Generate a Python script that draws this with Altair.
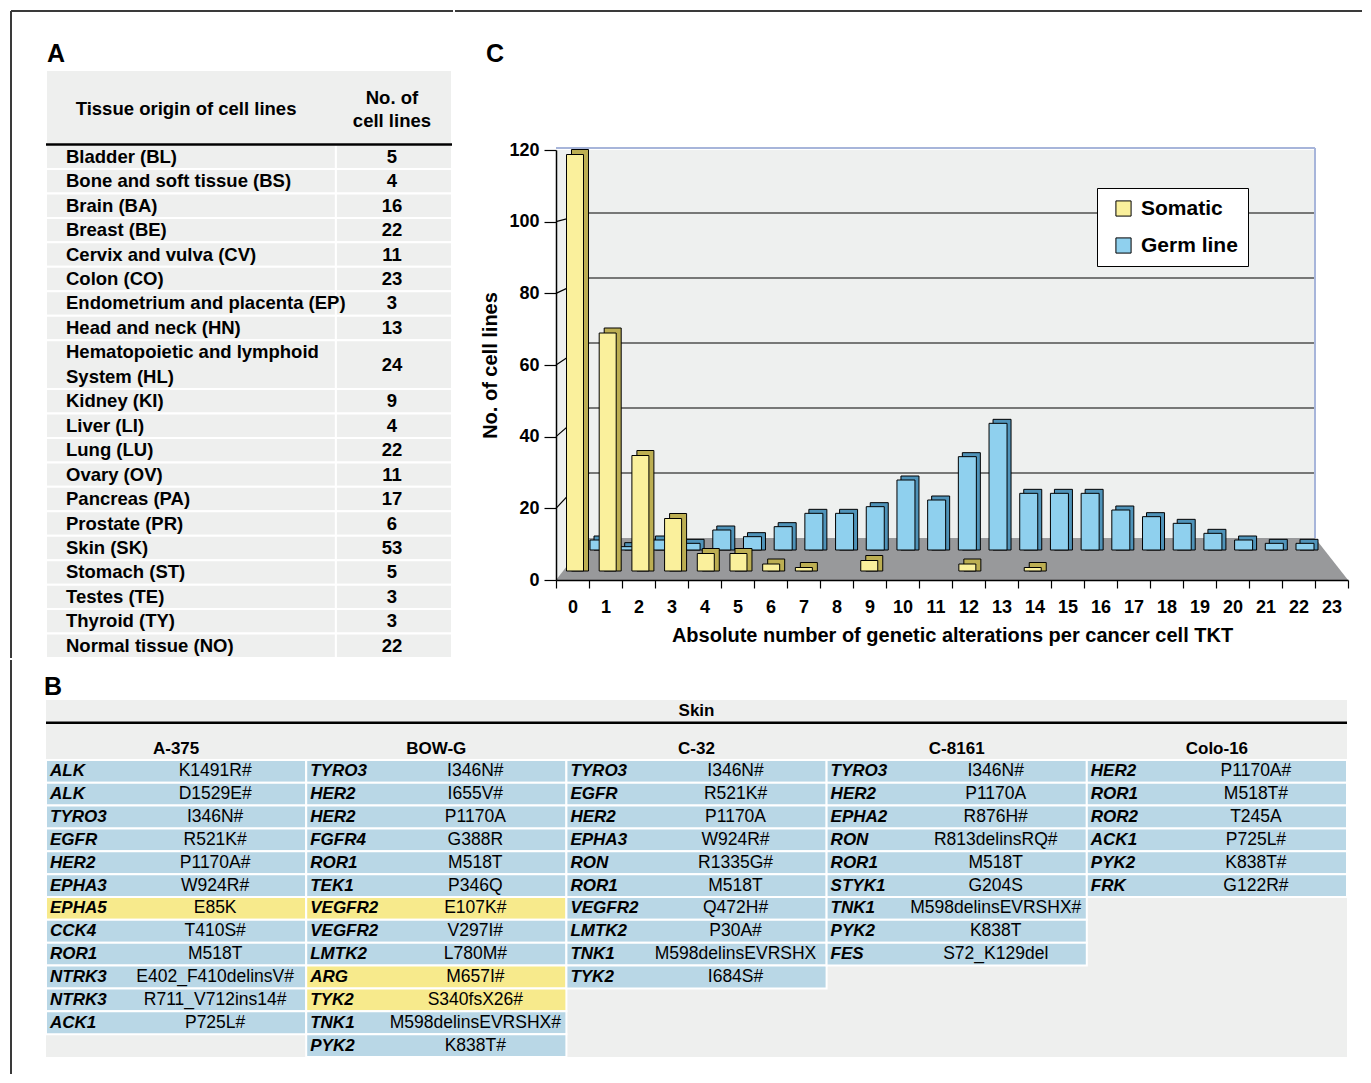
import altair as alt
import pandas as pd

FONT = "Liberation Sans"
PANEL_GRAY = "#eeefee"
CELL_BLUE = "#b9d7e6"
CELL_YELLOW = "#f7ea8c"
SOMA_FACE = "#faf09c"
SOMA_SIDE = "#bcae52"
GERM_FACE = "#8fd0ee"
GERM_SIDE = "#4f93b9"
FLOOR_GRAY = "#98999b"
WALL_GRAY = "#eef0ef"
WALL_EDGE = "#a7b5da"
FRAME_COLOR = "#3a3a3a"

# ------------------------------------------------------------------ data
tissues = [
    "Bladder (BL)", "Bone and soft tissue (BS)", "Brain (BA)", "Breast (BE)",
    "Cervix and vulva (CV)", "Colon (CO)", "Endometrium and placenta (EP)",
    "Head and neck (HN)", "Hematopoietic and lymphoid\nSystem (HL)", "Kidney (KI)",
    "Liver (LI)", "Lung (LU)", "Ovary (OV)", "Pancreas (PA)", "Prostate (PR)",
    "Skin (SK)", "Stomach (ST)", "Testes (TE)", "Thyroid (TY)", "Normal tissue (NO)",
]
tissue_counts = [5, 4, 16, 22, 11, 23, 3, 13, 24, 9, 4, 22, 11, 17, 6, 53, 5, 3, 3, 22]

alterations = list(range(24))
somatic_counts = [119, 68, 33, 15, 5, 5, 2, 1, 0, 3, 0, 0, 2, 0, 1, 0, 0, 0, 0, 0, 0, 0, 0, 0]
germline_counts = [3, 1, 3, 2, 6, 4, 7, 11, 11, 13, 21, 15, 28, 38, 17, 17, 17, 12, 10, 8, 5, 3, 2, 2]
y_ticks = [0, 20, 40, 60, 80, 100, 120]
series_names = ["Somatic", "Germ line"]
panel_labels = ["A", "B", "C"]

cell_lines = ["A-375", "BOW-G", "C-32", "C-8161", "Colo-16"]
a375_genes = ["ALK", "ALK", "TYRO3", "EGFR", "HER2", "EPHA3", "EPHA5", "CCK4", "ROR1", "NTRK3", "NTRK3", "ACK1"]
a375_muts = ["K1491R#", "D1529E#", "I346N#", "R521K#", "P1170A#", "W924R#", "E85K", "T410S#", "M518T",
             "E402_F410delinsV#", "R711_V712ins14#", "P725L#"]
a375_somatic = [0, 0, 0, 0, 0, 0, 1, 0, 0, 0, 0, 0]
bowg_genes = ["TYRO3", "HER2", "HER2", "FGFR4", "ROR1", "TEK1", "VEGFR2", "VEGFR2", "LMTK2", "ARG", "TYK2", "TNK1", "PYK2"]
bowg_muts = ["I346N#", "I655V#", "P1170A", "G388R", "M518T", "P346Q", "E107K#", "V297I#", "L780M#", "M657I#",
             "S340fsX26#", "M598delinsEVRSHX#", "K838T#"]
bowg_somatic = [0, 0, 0, 0, 0, 0, 1, 0, 0, 1, 1, 0, 0]
c32_genes = ["TYRO3", "EGFR", "HER2", "EPHA3", "RON", "ROR1", "VEGFR2", "LMTK2", "TNK1", "TYK2"]
c32_muts = ["I346N#", "R521K#", "P1170A", "W924R#", "R1335G#", "M518T", "Q472H#", "P30A#", "M598delinsEVRSHX", "I684S#"]
c32_somatic = [0, 0, 0, 0, 0, 0, 0, 0, 0, 0]
c8161_genes = ["TYRO3", "HER2", "EPHA2", "RON", "ROR1", "STYK1", "TNK1", "PYK2", "FES"]
c8161_muts = ["I346N#", "P1170A", "R876H#", "R813delinsRQ#", "M518T", "G204S", "M598delinsEVRSHX#", "K838T", "S72_K129del"]
c8161_somatic = [0, 0, 0, 0, 0, 0, 0, 0, 0]
colo16_genes = ["HER2", "ROR1", "ROR2", "ACK1", "PYK2", "FRK"]
colo16_muts = ["P1170A#", "M518T#", "T245A", "P725L#", "K838T#", "G122R#"]
colo16_somatic = [0, 0, 0, 0, 0, 0]

LABEL_STYLE = dict(align="left", baseline="middle", fontSize=25, fontWeight="bold", color="black")

# figure frame (left + top border), in pixels relative to each panel's plot corner
FRAME_LEFT = -35        # left border, relative to panels A / B
FRAME_TOP = -59         # top border, relative to panels A / C
C_GAP = 101             # gap from panel A's right edge to panel C's y axis
FRAME_RIGHT_C = 806     # end of top border, relative to panel C
FRAME_BOTTOM_B = 374    # end of left border, relative to panel B
B_GAP = 40              # gap from panel A's bottom to panel B's table
LABEL_A = (1, -16)      # panel-letter positions (px) relative to each panel's corner
LABEL_B = (-2, -13)
LABEL_C = (-70, -16)

# ------------------------------------------------------------------ panel A
A_W = 406
A_ROW = 24.45
A_HEAD = 3.05
A_SPLIT = 0.714

rowsA = []
pos = A_HEAD
for name, n in zip(tissues, tissue_counts):
    h = name.count("\n") + 1
    rowsA.append({"name": name, "n": str(n), "y0": pos, "y1": pos + h, "ym": pos + h / 2,
                  "yt": pos + 0.5, "xl": 0.0, "xr": (A_SPLIT + 1) / 2})
    pos += h
A_TOTAL = pos
A_H = round(A_TOTAL * A_ROW)
A_PX = A_H / A_TOTAL
dfA = pd.DataFrame(rowsA)

cellsA = [{"x0": 0, "x1": 1, "y0": 0, "y1": A_HEAD}]
for r in rowsA:
    cellsA.append({"x0": 0, "x1": A_SPLIT, "y0": r["y0"], "y1": r["y1"]})
    cellsA.append({"x0": A_SPLIT, "x1": 1, "y0": r["y0"], "y1": r["y1"]})

xA = alt.Scale(domain=[0, 1])
yA = alt.Scale(domain=[0, A_TOTAL], reverse=True)

a_frame = alt.Chart(pd.DataFrame({
    "x0": [FRAME_LEFT / A_W, FRAME_LEFT / A_W], "x1": [FRAME_LEFT / A_W, (A_W + 1) / A_W],
    "y0": [FRAME_TOP / A_PX, FRAME_TOP / A_PX], "y1": [A_TOTAL, FRAME_TOP / A_PX],
})).mark_rule(color=FRAME_COLOR, strokeWidth=2).encode(
    x=alt.X("x0:Q", scale=xA, axis=None), x2="x1:Q",
    y=alt.Y("y0:Q", scale=yA, axis=None), y2="y1:Q")
a_label = alt.Chart(pd.DataFrame({"t": [panel_labels[0]], "x": [LABEL_A[0] / A_W],
                                  "y": [LABEL_A[1] / A_PX]})).mark_text(**LABEL_STYLE).encode(
    x=alt.X("x:Q", scale=xA, axis=None), y=alt.Y("y:Q", scale=yA, axis=None), text="t:N")
a_cells = alt.Chart(pd.DataFrame(cellsA)).mark_rect(fill=PANEL_GRAY, stroke="white", strokeWidth=2).encode(
    x=alt.X("x0:Q", scale=xA, axis=None), x2="x1:Q",
    y=alt.Y("y0:Q", scale=yA, axis=None), y2="y1:Q")
a_rule = alt.Chart(pd.DataFrame({"x0": [0], "x1": [1], "y": [A_HEAD]})).mark_rule(
    color="black", strokeWidth=2.5).encode(
    x=alt.X("x0:Q", scale=xA, axis=None), x2="x1:Q", y=alt.Y("y:Q", scale=yA, axis=None))
a_names = alt.Chart(dfA).mark_text(align="left", baseline="middle", dx=20, fontSize=18.5, fontWeight="bold",
                                   lineBreak="\n", lineHeight=A_ROW, color="black").encode(
    x=alt.X("xl:Q", scale=xA, axis=None), y=alt.Y("yt:Q", scale=yA, axis=None), text="name:N")
a_counts = alt.Chart(dfA).mark_text(align="center", baseline="middle", dx=-2, fontSize=18.5, fontWeight="bold",
                                    color="black").encode(
    x=alt.X("xr:Q", scale=xA, axis=None), y=alt.Y("ym:Q", scale=yA, axis=None), text="n:N")
a_head1 = alt.Chart(pd.DataFrame({"label": ["Tissue origin of cell lines"], "x": [A_SPLIT / 2 - 0.012],
                                  "y": [A_HEAD / 2 + 0.05]})).mark_text(
    align="center", baseline="middle", fontSize=18.5, fontWeight="bold", color="black").encode(
    x=alt.X("x:Q", scale=xA, axis=None), y=alt.Y("y:Q", scale=yA, axis=None), text="label:N")
a_head2 = alt.Chart(pd.DataFrame({"label": ["No. of\ncell lines"], "x": [(A_SPLIT + 1) / 2],
                                  "y": [A_HEAD / 2 - 0.38]})).mark_text(
    align="center", baseline="middle", dx=-2, fontSize=18.5, fontWeight="bold", lineBreak="\n", lineHeight=23,
    color="black").encode(
    x=alt.X("x:Q", scale=xA, axis=None), y=alt.Y("y:Q", scale=yA, axis=None), text="label:N")

panelA = alt.layer(a_frame, a_label, a_cells, a_rule, a_names, a_counts, a_head1, a_head2).properties(
    width=A_W, height=A_H)

# ------------------------------------------------------------------ panel C
C_W, C_H = 792, 510
FRONT = [510, 80]      # pixel rows of 0 and 120 on the front edge (axis)
BACK = [468, 78]       # pixel rows of 0 and 120 on the back wall
GERM_Y = [480, 80]     # germ-line row (behind)
SOMA_Y = [501, 81]     # somatic row (front)
SOMA_X = [19, 771]     # pixel centres of bars 0 and 23, somatic row
GERM_X = [43, 749]     # pixel centres of bars 0 and 23, germ-line row
FLOOR_DEPTH = (FRONT[0] - BACK[0]) / (FRONT[0] - FRONT[1]) * 120
LEGEND_X, LEGEND_Y = 1051, 118   # legend box corner, relative to the top row's origin
X_PX = C_W / 24


def front_units(px):
    return (FRONT[0] - px) * 120 / (FRONT[0] - FRONT[1])


axis_common = dict(labelFont=FONT, labelFontWeight="bold", labelColor="black", labelFontSize=18,
                   titleFont=FONT, titleFontWeight="bold", titleColor="black", titleFontSize=20,
                   domainColor="black", domainWidth=1.5, tickColor="black", tickWidth=1.2, grid=False,
                   zindex=1)


def lin_x():
    return alt.Scale(domain=[0, 24], range=[0, C_W], padding=0)


def front_y():
    return alt.Scale(domain=[0, 120], range=FRONT, padding=0)


def back_y():
    return alt.Scale(domain=[0, 120], range=BACK, padding=0)


wall = alt.Chart(pd.DataFrame({"k": alterations[:-1], "lo": 0, "hi": 120})).mark_rect(fill=WALL_GRAY).encode(
    x=alt.X("k:O", scale=alt.Scale(domain=alterations, paddingInner=0, paddingOuter=0),
            axis=alt.Axis(title="Absolute number of genetic alterations per cancer cell TKT",
                          tickBand="extent", labelAngle=0, tickSize=8, labelPadding=10, titlePadding=9,
                          **axis_common)),
    y=alt.Y("lo:Q", scale=front_y(),
            axis=alt.Axis(values=y_ticks, title="No. of cell lines", tickSize=12, labelPadding=5,
                          titlePadding=8, **axis_common)),
    y2="hi:Q")

# top border continued across panel C
c_frame = alt.Chart(pd.DataFrame({"x0": [-C_GAP / X_PX], "x1": [FRAME_RIGHT_C / X_PX],
                                  "y": [front_units(FRAME_TOP)]})).mark_rule(
    color=FRAME_COLOR, strokeWidth=2).encode(
    x=alt.X("x0:Q", scale=lin_x(), axis=None), x2="x1:Q",
    y=alt.Y("y:Q", scale=front_y(), axis=None))
c_label = alt.Chart(pd.DataFrame({"t": [panel_labels[2]], "x": [LABEL_C[0] / X_PX],
                                  "y": [front_units(LABEL_C[1])]})).mark_text(**LABEL_STYLE).encode(
    x=alt.X("x:Q", scale=lin_x(), axis=None), y=alt.Y("y:Q", scale=front_y(), axis=None), text="t:N")

floor = alt.Chart(pd.DataFrame({"fx": [0, 1, 23, 24], "fy": [0, FLOOR_DEPTH, FLOOR_DEPTH, 0],
                                "base": [0, 0, 0, 0]})).mark_area(color=FLOOR_GRAY).encode(
    x=alt.X("fx:Q", scale=lin_x(), axis=None),
    y=alt.Y("fy:Q", scale=front_y(), axis=None), y2="base:Q")

grid_df = pd.DataFrame({"v": y_ticks[1:-1], "x0": 1, "x1": 23, "s0": 0, "s1": 1})
back_grid = alt.Chart(grid_df).mark_rule(color="black", strokeWidth=1.2).encode(
    x=alt.X("x0:Q", scale=lin_x(), axis=None), x2="x1:Q",
    y=alt.Y("v:Q", scale=back_y(), axis=None))

# side-wall diagonals: from the front tick to the back-wall gridline (back value expressed in front units)
k_slope = (BACK[1] - BACK[0]) / (FRONT[1] - FRONT[0])
k_off = (BACK[0] - FRONT[0]) / (FRONT[1] - FRONT[0]) * 120
side_grid = alt.Chart(grid_df).transform_calculate(
    vb=f"{k_off} + {k_slope} * datum.v").mark_rule(color="black", strokeWidth=1.2).encode(
    x=alt.X("s0:Q", scale=lin_x(), axis=None), x2="s1:Q",
    y=alt.Y("v:Q", scale=front_y(), axis=None), y2="vb:Q")

edge_df = pd.DataFrame({"x0": [0, 23], "x1": [23, 23], "y0": [120, 0], "y1": [120, 120]})
edges = alt.Chart(edge_df).mark_rule(color=WALL_EDGE, strokeWidth=2).encode(
    x=alt.X("x0:Q", scale=lin_x(), axis=None), x2="x1:Q",
    y=alt.Y("y0:Q", scale=back_y(), axis=None), y2="y1:Q")

color_scale = alt.Scale(domain=series_names, range=[SOMA_FACE, GERM_FACE])
legend = alt.Legend(orient="none", legendX=LEGEND_X, legendY=LEGEND_Y, title=None, fillColor="white",
                    strokeColor="black", padding=10, symbolType="square", symbolSize=230, symbolOffset=6,
                    symbolStrokeColor="black", symbolStrokeWidth=1, labelFont=FONT, labelFontSize=21,
                    labelFontWeight="bold", labelColor="black", rowPadding=15, labelOffset=7, labelLimit=0)

germ_df = pd.DataFrame({"k": alterations, "value": germline_counts, "series": series_names[1], "zero": 0})
soma_df = pd.DataFrame({"k": alterations, "value": somatic_counts, "series": series_names[0], "zero": 0})


def bars(df, xr, yr, size, depth, side_color):
    base = alt.Chart(df).transform_filter("datum.value > 0")

    def enc():
        return dict(x=alt.X("k:Q", scale=alt.Scale(domain=[0, 23], range=xr, padding=0), axis=None),
                    y=alt.Y("value:Q", scale=alt.Scale(domain=[0, 120], range=yr, padding=0), axis=None),
                    y2="zero:Q")
    side = base.mark_bar(orient="vertical", size=size, xOffset=depth, yOffset=-depth, fill=side_color,
                         stroke="black", strokeWidth=1).encode(**enc())
    face = base.mark_bar(orient="vertical", size=size, stroke="black", strokeWidth=1, opacity=1).encode(
        color=alt.Color("series:N", scale=color_scale, legend=legend), **enc())
    return side, face


g_side, g_face = bars(germ_df, GERM_X, GERM_Y, 18, 4, GERM_SIDE)
s_side, s_face = bars(soma_df, SOMA_X, SOMA_Y, 17, 5, SOMA_SIDE)

panelC = alt.layer(wall, c_frame, c_label, floor, back_grid, side_grid, edges,
                   g_side, g_face, s_side, s_face).resolve_scale(
    x="independent", y="independent", color="shared").properties(width=C_W, height=C_H)

# ------------------------------------------------------------------ panel B
B_W = 1301
B_ROW = 22.85
B_SKIN = 1.0
B_HEAD_Y = 2.14
B_DATA_TOP = 2.62
B_TOTAL = B_DATA_TOP + max(len(a375_genes), len(bowg_genes), len(c32_genes), len(c8161_genes), len(colo16_genes))
B_H = round(B_TOTAL * B_ROW)
B_PX = B_H / B_TOTAL
B_MUT_POS = 0.65

columnsB = [
    (a375_genes, a375_muts, a375_somatic),
    (bowg_genes, bowg_muts, bowg_somatic),
    (c32_genes, c32_muts, c32_somatic),
    (c8161_genes, c8161_muts, c8161_somatic),
    (colo16_genes, colo16_muts, colo16_somatic),
]
recB = []
for c, (genes, muts, som) in enumerate(columnsB):
    for i, (g, m, s) in enumerate(zip(genes, muts, som)):
        recB.append({"c0": c, "c1": c + 1, "cm": c + B_MUT_POS, "y0": B_DATA_TOP + i, "y1": B_DATA_TOP + i + 1,
                     "ym": B_DATA_TOP + i + 0.5, "gene": g, "mut": m, "kind": "somatic" if s else "germ"})
dfB = pd.DataFrame(recB)
n_cols = len(cell_lines)
xB = alt.Scale(domain=[0, n_cols])
yB = alt.Scale(domain=[0, B_TOTAL], reverse=True)
B_XPX = B_W / n_cols

b_frame = alt.Chart(pd.DataFrame({
    "x": [FRAME_LEFT / B_XPX], "y0": [-B_GAP / B_PX], "y1": [FRAME_BOTTOM_B / B_PX],
})).mark_rule(color=FRAME_COLOR, strokeWidth=2).encode(
    x=alt.X("x:Q", scale=xB, axis=None), y=alt.Y("y0:Q", scale=yB, axis=None), y2="y1:Q")
b_label = alt.Chart(pd.DataFrame({"t": [panel_labels[1]], "x": [LABEL_B[0] / B_XPX],
                                  "y": [LABEL_B[1] / B_PX]})).mark_text(**LABEL_STYLE).encode(
    x=alt.X("x:Q", scale=xB, axis=None), y=alt.Y("y:Q", scale=yB, axis=None), text="t:N")
b_bg = alt.Chart(pd.DataFrame({"x0": [0], "x1": [n_cols], "y0": [0], "y1": [B_TOTAL]})).mark_rect(
    fill=PANEL_GRAY).encode(
    x=alt.X("x0:Q", scale=xB, axis=None), x2="x1:Q", y=alt.Y("y0:Q", scale=yB, axis=None), y2="y1:Q")
b_cells = alt.Chart(dfB).mark_rect(stroke="white", strokeWidth=2).encode(
    x=alt.X("c0:Q", scale=xB, axis=None), x2="c1:Q",
    y=alt.Y("y0:Q", scale=yB, axis=None), y2="y1:Q",
    fill=alt.Fill("kind:N", scale=alt.Scale(domain=["germ", "somatic"], range=[CELL_BLUE, CELL_YELLOW]),
                  legend=None))
b_rule = alt.Chart(pd.DataFrame({"x0": [0], "x1": [n_cols], "y": [B_SKIN]})).mark_rule(
    color="black", strokeWidth=2.5).encode(
    x=alt.X("x0:Q", scale=xB, axis=None), x2="x1:Q", y=alt.Y("y:Q", scale=yB, axis=None))
b_genes = alt.Chart(dfB).mark_text(align="left", baseline="middle", dx=4, fontSize=17, fontWeight="bold",
                                   fontStyle="italic", color="black").encode(
    x=alt.X("c0:Q", scale=xB, axis=None), y=alt.Y("ym:Q", scale=yB, axis=None), text="gene:N")
b_muts = alt.Chart(dfB).mark_text(align="center", baseline="middle", fontSize=17.5, color="black").encode(
    x=alt.X("cm:Q", scale=xB, axis=None), y=alt.Y("ym:Q", scale=yB, axis=None), text="mut:N")
b_heads = alt.Chart(pd.DataFrame({
    "label": ["Skin"] + cell_lines,
    "x": [n_cols / 2] + [c + 0.5 for c in range(n_cols)],
    "y": [B_SKIN / 2] + [B_HEAD_Y] * n_cols,
})).mark_text(align="center", baseline="middle", fontSize=17, fontWeight="bold", color="black").encode(
    x=alt.X("x:Q", scale=xB, axis=None), y=alt.Y("y:Q", scale=yB, axis=None), text="label:N")

panelB = alt.layer(b_frame, b_label, b_bg, b_cells, b_rule, b_genes, b_muts, b_heads).properties(
    width=B_W, height=B_H)

# ------------------------------------------------------------------ assemble
chart = alt.vconcat(
    alt.hconcat(panelA, panelC, spacing=0),
    panelB, spacing=0,
).properties(
    padding={"left": 2, "top": 2, "right": 0, "bottom": 0}, background="white"
).configure(font=FONT).configure_view(stroke=None)

chart.save("out.html", embed_options={"renderer": "svg", "actions": False})
